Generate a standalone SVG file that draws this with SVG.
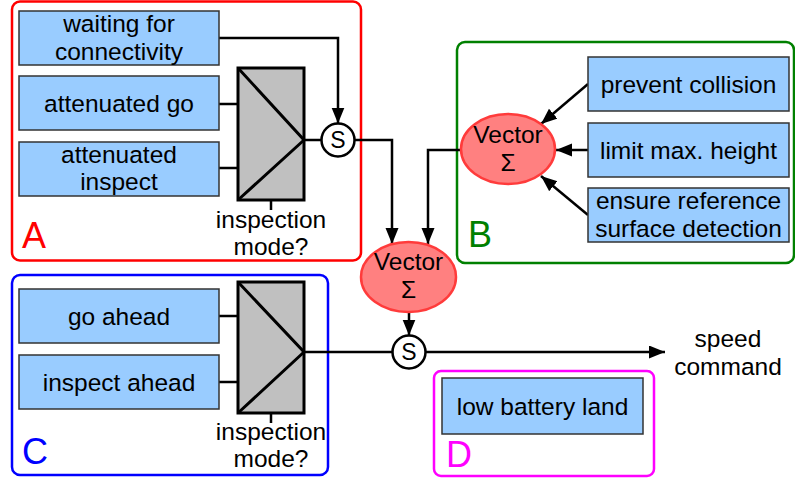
<svg xmlns="http://www.w3.org/2000/svg" width="795" height="481" viewBox="0 0 795 481">
<style>
text{font-family:"Liberation Sans",Arial,sans-serif;fill:#000;}
.t{font-size:24.5px;text-anchor:middle;}
.lbl{font-size:36px;}
.s{font-size:23px;text-anchor:middle;}
.box{fill:#99ccff;stroke:#333;stroke-width:1.5;}
.sw{fill:#c0c0c0;stroke:#000;stroke-width:3;}
.swl{fill:none;stroke:#000;stroke-width:3;}
.ell{fill:#ff8080;stroke:#ff3b3b;stroke-width:2.5;}
.circ{fill:#fff;stroke:#000;stroke-width:2.5;}
.c{fill:none;stroke:#000;stroke-width:2.5;}
.ca{fill:none;stroke:#000;stroke-width:2.5;marker-end:url(#arr);}
.grp{fill:none;stroke-width:2.5;}
</style>
<defs>
<marker id="arr" markerUnits="userSpaceOnUse" markerWidth="17" markerHeight="14" refX="16" refY="6.5" orient="auto">
<path d="M0,0 L16,6.5 L0,13 Z" fill="#000"/>
</marker>
</defs>

<g id="groupA">
<rect class="grp" x="12" y="1.5" width="349" height="259" rx="8" stroke="#ff0000"/>
<text class="lbl" x="22" y="248" style="fill:#ff0000">A</text>
</g>
<g id="groupB">
<rect class="grp" x="457" y="42" width="337" height="221" rx="8" stroke="#008000"/>
<text class="lbl" x="468" y="247" style="fill:#008000">B</text>
</g>
<g id="groupC">
<rect class="grp" x="12" y="275" width="316" height="200" rx="8" stroke="#0000ff"/>
<text class="lbl" x="22" y="464" style="fill:#0000ff">C</text>
</g>
<g id="groupD">
<rect class="grp" x="434" y="371" width="220" height="105" rx="7" stroke="#ff00ff"/>
<text class="lbl" x="446" y="467" style="fill:#ff00ff">D</text>
</g>

<g id="connectors">
<path class="ca" d="M219,38 H338 V123.5"/>
<path class="c" d="M219,104 H238 M219,168 H238 M304,140 H321.5 M271,200 V210"/>
<path class="ca" d="M354.5,140 H392 V244"/>
<path class="ca" d="M462,150 H428 V244"/>
<path class="ca" d="M588,84 L541,124"/>
<path class="ca" d="M588,150 L556,150"/>
<path class="ca" d="M588,215 L541,176"/>
<path class="ca" d="M409,312 V335.5"/>
<path class="c" d="M219,316 H238 M219,382 H238 M304,352 H392.5 M271,413 V423"/>
<path class="ca" d="M425.5,352 H665"/>
</g>

<g id="waiting">
<rect class="box" x="19" y="11" width="200" height="54"/>
<text class="t" x="119" y="32">waiting for</text>
<text class="t" x="119" y="60">connectivity</text>
</g>
<g id="att-go">
<rect class="box" x="19" y="76" width="200" height="54"/>
<text class="t" x="119" y="112">attenuated go</text>
</g>
<g id="att-inspect">
<rect class="box" x="19" y="142" width="200" height="54"/>
<text class="t" x="119" y="163">attenuated</text>
<text class="t" x="119" y="190">inspect</text>
</g>
<g id="switchA">
<rect class="sw" x="238" y="68" width="66" height="132"/>
<path class="swl" d="M238,68 L304,140 L238,200"/>
<text class="t" x="271" y="228">inspection</text>
<text class="t" x="271" y="255">mode?</text>
</g>
<g id="sA">
<circle class="circ" cx="338" cy="140" r="16.5"/>
<text class="s" x="338" y="148">S</text>
</g>

<g id="vectorB">
<ellipse class="ell" cx="508" cy="149" rx="47" ry="35"/>
<text class="t" x="508" y="143">Vector</text>
<text class="t" x="508" y="171">Σ</text>
</g>
<g id="prevent">
<rect class="box" x="588" y="57" width="201" height="54"/>
<text class="t" x="688.5" y="93">prevent collision</text>
</g>
<g id="limit">
<rect class="box" x="588" y="123" width="201" height="54"/>
<text class="t" x="688.5" y="159">limit max. height</text>
</g>
<g id="ensure">
<rect class="box" x="588" y="188" width="201" height="54"/>
<text class="t" x="688.5" y="209">ensure reference</text>
<text class="t" x="688.5" y="237">surface detection</text>
</g>

<g id="vectorMain">
<ellipse class="ell" cx="408.5" cy="277" rx="47.5" ry="35"/>
<text class="t" x="408.5" y="270">Vector</text>
<text class="t" x="408.5" y="298">Σ</text>
</g>

<g id="goahead">
<rect class="box" x="19" y="289" width="200" height="54"/>
<text class="t" x="119" y="325">go ahead</text>
</g>
<g id="inspectahead">
<rect class="box" x="19" y="355" width="200" height="54"/>
<text class="t" x="119" y="391">inspect ahead</text>
</g>
<g id="switchC">
<rect class="sw" x="238" y="282" width="66" height="131"/>
<path class="swl" d="M238,282 L304,352 L238,413"/>
<text class="t" x="271" y="440">inspection</text>
<text class="t" x="271" y="467">mode?</text>
</g>
<g id="sMain">
<circle class="circ" cx="409" cy="352" r="16.5"/>
<text class="s" x="409" y="360">S</text>
</g>

<g id="speed">
<text class="t" x="728" y="347">speed</text>
<text class="t" x="728" y="375">command</text>
</g>

<g id="lowbattery">
<rect class="box" x="442" y="378" width="201" height="56"/>
<text class="t" x="542.5" y="415">low battery land</text>
</g>
</svg>
